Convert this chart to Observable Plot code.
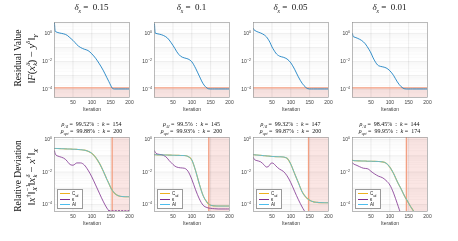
<!DOCTYPE html>
<html><head><meta charset="utf-8">
<script src="https://cdn.jsdelivr.net/npm/d3@7"></script>
<script src="https://cdn.jsdelivr.net/npm/@observablehq/plot@0.6"></script>
<style>
body{margin:0;background:#fff;}
#root{position:relative;width:458px;height:241px;overflow:hidden;font-family:"Liberation Sans",Arial,sans-serif;}
.abs{position:absolute;white-space:nowrap;}
.serif{font-family:"Liberation Serif","DejaVu Serif",serif;color:#111;}
.rot{transform:translate(-50%,-50%) rotate(-90deg);line-height:1;}
.ctr{transform:translate(-50%,-50%);}
.st{display:inline-block;position:relative;width:0.45em;height:1em;vertical-align:baseline;font-size:62%;}
.st > :first-child{position:absolute;left:0.05em;top:-0.55em;}
.st > :last-child{position:absolute;left:0.05em;top:0.55em;}
sub,sup{font-size:62%;line-height:0;}
i{font-style:italic;}
.leg{position:absolute;background:#fff;border:0.6px solid #9a9a9a;font-family:"Liberation Sans",Arial,sans-serif;font-size:4.5px;color:#222;}
.legrow{position:absolute;left:2px;height:5px;display:flex;align-items:center;}
.sw{width:10px;height:1px;margin-right:2px;}
svg{position:absolute;overflow:visible;}
</style></head><body><div id="root"></div>
<script>
// ---------------- data ----------------
const iterations = [1,3,5,10,20,30,35,40,45,50,55,60,70,80,90,100,110,120,130,140,145,150,155,160,170,180,190,200];
const deltaLabels = ["0.15","0.1","0.05","0.01"];

// residual ||F(x_k) - y||_Y
const residual1 = [5.2,1.4,1.3,1.15,1.0,0.85,0.72,0.55,0.42,0.32,0.23,0.16,0.1,0.075,0.06,0.035,0.017,0.0068,0.0024,7e-4,3.8e-4,2e-4,1.2e-4,1.1e-4,1.1e-4,1.1e-4,1.1e-4,1.1e-4];
const residual2 = [4.7,1.05,1.0,0.93,0.8,0.6,0.48,0.34,0.22,0.14,0.085,0.05,0.024,0.018,0.015,0.0095,0.0033,9e-4,2.6e-4,1.3e-4,1.12e-4,1.1e-4,1.1e-4,1.1e-4,1.1e-4,1.1e-4,1.1e-4,1.1e-4];
const residual3 = [2.2,1.7,1.6,1.35,1.07,0.76,0.58,0.38,0.22,0.11,0.065,0.04,0.024,0.02,0.015,0.008,0.0028,8e-4,2.8e-4,1.4e-4,1.15e-4,1.1e-4,1.1e-4,1.1e-4,1.1e-4,1.1e-4,1.1e-4,1.1e-4];
const residual4 = [0.95,0.6,0.56,0.5,0.38,0.25,0.18,0.115,0.07,0.04,0.02,0.011,0.005,0.0042,0.0035,0.0022,0.001,3.5e-4,1.6e-4,1.12e-4,1.1e-4,1.1e-4,1.1e-4,1.1e-4,1.1e-4,1.1e-4,1.1e-4,1.1e-4];
const residualThreshold = [1.3e-4,1.3e-4,1.3e-4,1.3e-4];

// relative deviation
const cad1 = [0.28,0.28,0.28,0.275,0.27,0.265,0.26,0.26,0.255,0.25,0.25,0.245,0.235,0.22,0.19,0.14,0.08,0.035,0.012,0.0035,0.002,0.0011,7e-4,5e-4,3.5e-4,3.1e-4,3e-4,3e-4];
const cad2 = [0.115,0.115,0.114,0.113,0.112,0.11,0.11,0.109,0.108,0.107,0.106,0.105,0.104,0.102,0.09,0.055,0.012,0.0018,3.5e-4,1.4e-4,1.05e-4,9e-5,8.5e-5,8.2e-5,8e-5,8e-5,8e-5,8e-5];
const cad3 = [0.115,0.114,0.113,0.11,0.105,0.1,0.098,0.095,0.093,0.09,0.089,0.088,0.086,0.084,0.07,0.03,0.008,0.0022,6e-4,2.8e-4,2.2e-4,1.8e-4,1.6e-4,1.45e-4,1.35e-4,1.3e-4,1.28e-4,1.27e-4];
const cad4 = [0.052,0.051,0.05,0.049,0.048,0.047,0.047,0.046,0.046,0.046,0.045,0.045,0.044,0.042,0.035,0.02,0.008,0.0025,9e-4,3e-4,1.9e-4,1.2e-4,7.5e-5,5e-5,2.2e-5,1e-5,1e-5,1e-5];
const ai1 = cad1.slice(), ai2 = cad2.slice(), ai3 = cad3.slice(), ai4 = cad4.slice();
const kappa1 = [0.2,0.13,0.11,0.095,0.08,0.06,0.045,0.032,0.027,0.026,0.03,0.036,0.036,0.027,0.013,0.005,0.0016,5e-4,1.6e-4,6e-5,4.2e-5,null,null,null,null,null,null,null];
const kappa1Tail = [null,null,null,null,null,null,null,null,null,null,null,null,null,null,null,null,null,null,null,null,4.2e-5,4.2e-5,4.2e-5,4.2e-5,4.2e-5,4.2e-5,4.2e-5,4.2e-5];
const kappa2 = [0.2,0.165,0.14,0.125,0.115,0.09,0.07,0.05,0.038,0.029,0.023,0.02,0.018,0.017,0.011,0.0035,8e-4,2.2e-4,9e-5,6.5e-5,6e-5,5.8e-5,5.6e-5,5.5e-5,5.3e-5,5.3e-5,5.3e-5,5.3e-5];
const kappa3 = [0.075,0.06,0.055,0.05,0.042,0.026,0.02,0.021,0.03,0.036,0.032,0.024,0.015,0.011,0.0058,0.0022,6.5e-4,2e-4,7e-5,2.5e-5,1e-5,1e-5,1e-5,1e-5,1e-5,1e-5,1e-5,1e-5];
const kappa4 = [0.036,0.033,0.03,0.027,0.021,0.017,0.0165,0.016,0.014,0.011,0.009,0.0075,0.0055,0.0045,0.003,0.0016,5e-4,1.1e-4,2.5e-5,1e-5,1e-5,1e-5,1e-5,1e-5,1e-5,1e-5,1e-5,1e-5];

const rhoAI  = ["99.52%","99.5%","99.32%","98.45%"];
const kAI    = [154,145,147,144];
const rhoOpt = ["99.88%","99.93%","99.87%","99.95%"];
const kOpt   = [200,200,200,174];

const xTicks = [50,100,150,200];
const yTicks = [1,1e-2,1e-4];
const legendLabels = ['C<sub>ad</sub>','κ','AI'];
const colors = {res:"#0072BD", cad:"#EDB120", kappa:"#7E2F8E", ai:"#4DBEEE", band:"#fbe6e4", bandLine:"#f2a083"};

// ---------------- layout ----------------
const root = document.getElementById("root");
const frameLeft = [54,154,253,352];
const FW = 75, ML = 20, MR = 4, MT = 2, MB = 17;
const topDomain = [2.7e-5, 6];
const botDomain = [3.7e-5, 1.32];

function div(html, css, cls){
  const d=document.createElement("div");
  d.className="abs "+(cls||"");
  d.style.cssText=css; d.innerHTML=html; root.appendChild(d); return d;
}
const fmt = d => "10^" + Math.round(Math.log10(d));
function minorTicks(dom){
  const out=[];
  for(let e=-6;e<=1;e++) for(let m=2;m<=9;m++){const v=m*Math.pow(10,e); if(v>dom[0]&&v<dom[1]) out.push(v);}
  return out;
}
function decades(dom){
  const out=[]; for(let e=-6;e<=1;e++){const v=Math.pow(10,e); if(v>dom[0]&&v<dom[1]) out.push(v);} return out;
}
const toRows = s => iterations.map((t,j)=>({t, v:s[j]})).filter(d=>d.v!=null);

function fixPowers(svg){
  svg.querySelectorAll("text").forEach(t=>{
    const s=t.textContent;
    if(s.startsWith("10^")){
      const e=s.slice(3).replace("-","−");
      t.textContent="";
      const ns="http://www.w3.org/2000/svg";
      const a=document.createElementNS(ns,"tspan"); a.textContent="10";
      const b=document.createElementNS(ns,"tspan"); b.textContent=e; b.setAttribute("dy","-1.8"); b.setAttribute("font-size","3.6");
      t.appendChild(a); t.appendChild(b);
    }
  });
}

function basePlot(dom, FH, extraMarks, bgMarks){
  const p = Plot.plot({
    width: ML+FW+MR, height: MT+FH+MB,
    marginLeft: ML, marginRight: MR, marginTop: MT, marginBottom: MB,
    x:{domain:[1,200]},
    y:{type:"log", domain:dom},
    style:{fontFamily:"Liberation Sans, Arial, sans-serif", fontSize:"5px", color:"#404040", background:"transparent", overflow:"visible"},
    marks:[
      ...bgMarks,
      Plot.gridY(minorTicks(dom), {stroke:"#000", strokeOpacity:0.045, strokeWidth:0.6}),
      Plot.gridY(decades(dom), {stroke:"#000", strokeOpacity:0.1, strokeWidth:0.6}),
      Plot.gridX(xTicks.slice(0,3), {stroke:"#000", strokeOpacity:0.12, strokeWidth:0.6}),
      ...extraMarks,
      Plot.axisX({ticks:xTicks, tickSize:0, tickPadding:3, label:"Iteration", labelAnchor:"center", labelArrow:"none", labelOffset:13, fontSize:5}),
      Plot.axisY({ticks:yTicks, tickFormat:fmt, tickSize:0, tickPadding:2.5, label:null, fontSize:5}),
      Plot.frame({stroke:"#8c8c8c", strokeWidth:0.6})
    ]
  });
  fixPowers(p);
  return p;
}

const residuals=[residual1,residual2,residual3,residual4];
const cads=[cad1,cad2,cad3,cad4], ais=[ai1,ai2,ai3,ai4], kappas=[kappa1,kappa2,kappa3,kappa4];

for(let i=0;i<4;i++){
  const cx = frameLeft[i]+FW/2;
  div(`<i>δ</i><sub><i>x</i></sub> = &nbsp;${deltaLabels[i]}`, `left:${cx}px;top:7px;font-size:9px;`, "serif ctr");

  const top = basePlot(topDomain, 75, [
      Plot.ruleY([residualThreshold[i]], {stroke:colors.bandLine, strokeWidth:1.3}),
      Plot.line(toRows(residuals[i]), {x:"t", y:"v", stroke:colors.res, strokeWidth:0.8, curve:"monotone-x", clip:true})
    ],
    [Plot.rect([residualThreshold[i]], {x1:1, x2:200, y1:topDomain[0], y2:d=>d, fill:colors.band})]
  );
  top.style.left=(frameLeft[i]-ML)+"px"; top.style.top=(22-MT)+"px";
  root.appendChild(top);

  div(`<i>ρ</i><sub><i>AI</i></sub> = &nbsp;${rhoAI[i]} &nbsp;: &nbsp;<i>k</i> = &nbsp;${kAI[i]}`, `left:${cx}px;top:124px;font-size:6px;`, "serif ctr");
  div(`<i>ρ</i><sub><i>opt</i></sub> = &nbsp;${rhoOpt[i]} &nbsp;: &nbsp;<i>k</i> = &nbsp;${kOpt[i]}`, `left:${cx}px;top:130.5px;font-size:6px;`, "serif ctr");

  const lines = [
    Plot.ruleX([kAI[i]], {stroke:colors.bandLine, strokeWidth:1.3}),
    Plot.line(toRows(cads[i]), {x:"t", y:"v", stroke:colors.cad, strokeWidth:1.1, curve:"monotone-x", clip:true}),
    Plot.line(toRows(kappas[i]), {x:"t", y:"v", stroke:colors.kappa, strokeWidth:0.8, curve:"monotone-x", clip:true}),
    Plot.line(toRows(ais[i]), {x:"t", y:"v", stroke:colors.ai, strokeWidth:0.85, curve:"monotone-x", clip:true, mixBlendMode:"multiply"})
  ];
  if(i===0) lines.push(Plot.line(toRows(kappa1Tail), {x:"t", y:"v", stroke:colors.kappa, strokeWidth:0.8, strokeDasharray:"1.2,2", clip:true}));
  const bot = basePlot(botDomain, 74, lines,
    [Plot.rect([kAI[i]], {x1:d=>d, x2:200, y1:botDomain[0], y2:botDomain[1], fill:colors.band})]
  );
  bot.style.left=(frameLeft[i]-ML)+"px"; bot.style.top=(137-MT)+"px";
  root.appendChild(bot);

  const leg=document.createElement("div");
  leg.className="leg";
  leg.style.cssText=`left:${frameLeft[i]+3}px;top:189px;width:24px;height:18px;`;
  const lc=[colors.cad,colors.kappa,colors.ai];
  legendLabels.forEach((lab,j)=>{
    const r=document.createElement("div"); r.className="legrow"; r.style.top=(1+j*5.6)+"px";
    r.innerHTML=`<span class="sw" style="background:${lc[j]}"></span><span>${lab}</span>`;
    leg.appendChild(r);
  });
  root.appendChild(leg);
}

// row labels
div("Residual Value", "left:19px;top:58px;font-size:9.5px;", "serif rot");
div('‖<i>F</i>(<i>x</i><span class="st"><i>δ</i><i>k</i></span>) − <i>y</i><sup><i>δ</i></sup>‖<sub><i>Y</i></sub>', "left:31.5px;top:59px;font-size:10.5px;", "serif rot");
div("Relative Deviation", "left:19px;top:176px;font-size:9.5px;", "serif rot");
div('‖<i>x</i><sup>†</sup>‖<span class="st" style="width:0.9em"><span>−1</span><i>X</i></span>‖<i>x</i><span class="st"><i>δ</i><i>k</i></span> − <i>x</i><sup>†</sup>‖<sub><i>X</i></sub>', "left:31.5px;top:177px;font-size:10.5px;", "serif rot");
</script></body></html>
